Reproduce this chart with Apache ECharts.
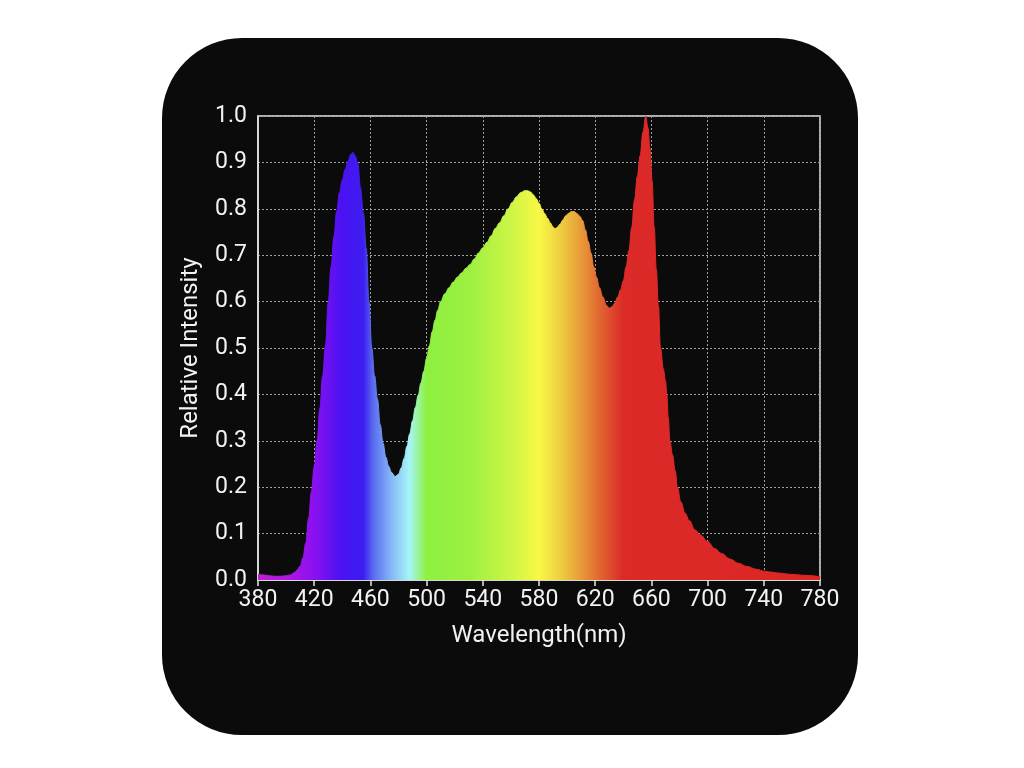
<!DOCTYPE html>
<html>
<head>
<meta charset="utf-8">
<script src="https://cdn.jsdelivr.net/npm/echarts@6/dist/echarts.min.js"></script>
<style>
html,body{margin:0;padding:0;background:#ffffff;}
#chart{width:1024px;height:768px;}
</style>
</head>
<body>
<div id="chart"></div>
<script>
// Wavelength (nm) samples
const wavelengths = [380,384,388,392,396,400,403,406,408,410,412,414,416,418,420,422,424,426,428,430,432,434,436,438,440,442,444,446,447.5,449,451,453,455,457,459,461,463,465,467,469,471,473,475,477.5,480,482,484,486,488,490,492,494,496,498,500,502,504,506,508,510,513,516,519,522,525,528,531,534,537,540,543,546,549,552,555,558,561,564,567,570,572,574,576,578,580,582,584,586,588,590,591.5,593,595,597,599,601,603,605,607,609,611,613,615,617,619,621,623,625.5,628,630,632,634,636,638,640,642,644,646,648,650,652,654,656,657.5,659,660.5,662,663.5,665,666.5,668.5,670,671,672,673.2,675,677,678.5,681,684,687,691,695,700,705,710,716,722,728,735,740,745,750,760,770,780];
// Relative intensity at each wavelength
const intensity = [0.012,0.011,0.009,0.008,0.008,0.009,0.011,0.016,0.022,0.03,0.048,0.08,0.133,0.19,0.245,0.30,0.37,0.44,0.505,0.60,0.675,0.74,0.795,0.835,0.862,0.885,0.902,0.917,0.922,0.915,0.90,0.845,0.79,0.715,0.60,0.50,0.44,0.39,0.335,0.295,0.265,0.245,0.232,0.223,0.228,0.242,0.262,0.288,0.315,0.343,0.372,0.398,0.425,0.45,0.478,0.505,0.535,0.56,0.582,0.60,0.617,0.63,0.642,0.653,0.662,0.672,0.68,0.692,0.705,0.716,0.728,0.742,0.758,0.77,0.785,0.80,0.814,0.826,0.835,0.839,0.839,0.836,0.83,0.822,0.812,0.80,0.79,0.78,0.77,0.761,0.757,0.76,0.767,0.776,0.785,0.79,0.794,0.794,0.79,0.784,0.775,0.755,0.73,0.705,0.675,0.652,0.63,0.61,0.592,0.586,0.589,0.597,0.61,0.625,0.645,0.675,0.71,0.76,0.82,0.87,0.915,0.965,1.0,0.975,0.93,0.86,0.76,0.67,0.59,0.50,0.455,0.43,0.40,0.35,0.30,0.27,0.235,0.20,0.168,0.144,0.128,0.108,0.097,0.083,0.068,0.057,0.045,0.036,0.029,0.023,0.019,0.017,0.015,0.012,0.01,0.007];
// Spectral colour stops (wavelength -> colour)
const colorWavelengths = [380,400,420,440,455,462,475,488,500,530,560,580,595,610,625,640,780];
const colorValues = ['#c21ed0','#b018e0','#8a10f0','#4a12f2','#3c1ef0','#5a6cf0','#86b8f8','#a6f6f6','#8ef040','#9cf040','#cdf545','#f8f845','#eed040','#e89a38','#e06030','#dc2a28','#dc2626'];
const xTicks = [380,420,460,500,540,580,620,660,700,740,780];

const xMin = 380, xMax = 780;
const data = wavelengths.map((w, i) => [w, intensity[i]]);
const stops = colorWavelengths.map((w, i) => ({offset: (w - xMin) / (xMax - xMin), color: colorValues[i]}));

const chart = echarts.init(document.getElementById('chart'));
const font = 'Roboto, "Noto Sans", sans-serif';
chart.setOption({
  backgroundColor: '#ffffff',
  animation: false,
  graphic: [{
    type: 'rect', z: -10, silent: true,
    shape: {x: 162, y: 38, width: 696, height: 697, r: 80},
    style: {fill: '#0b0b0b'}
  }],
  grid: {left: 258, right: 204, top: 116, bottom: 188, show: true, borderColor: '#e6e6e6', borderWidth: 1.5, backgroundColor: 'transparent'},
  xAxis: {
    type: 'value', min: xMin, max: xMax, interval: 40,
    name: 'Wavelength(nm)', nameLocation: 'middle', nameGap: 44,
    nameTextStyle: {color: '#f2f2f2', fontSize: 24, fontFamily: font},
    axisLine: {show: true, lineStyle: {color: '#e6e6e6', width: 1.5}},
    axisTick: {show: true, length: 6, lineStyle: {color: '#e6e6e6', width: 1.5}},
    axisLabel: {color: '#f2f2f2', fontSize: 23, fontFamily: font, margin: 9,
      formatter: v => xTicks.includes(v) ? String(v) : ''},
    splitLine: {show: true, lineStyle: {color: '#a0a0a0', type: [2, 2], width: 1}}
  },
  yAxis: {
    type: 'value', min: 0, max: 1, interval: 0.1,
    name: 'Relative Intensity', nameLocation: 'middle', nameGap: 55, nameRotate: 90,
    nameTextStyle: {color: '#f2f2f2', fontSize: 24, fontFamily: font},
    axisLine: {show: true, lineStyle: {color: '#e6e6e6', width: 1.5}},
    axisTick: {show: false},
    axisLabel: {color: '#f2f2f2', fontSize: 23, fontFamily: font, margin: 11,
      formatter: v => v.toFixed(1)},
    splitLine: {show: true, lineStyle: {color: '#a0a0a0', type: [2, 2], width: 1}}
  },
  series: [{
    type: 'line',
    data: data,
    smooth: 0.4,
    smoothMonotone: 'x',
    showSymbol: false,
    lineStyle: {width: 1, color: new echarts.graphic.LinearGradient(0, 0, 1, 0, stops)},
    areaStyle: {
      opacity: 1,
      color: new echarts.graphic.LinearGradient(0, 0, 1, 0, stops)
    }
  }]
});
</script>
</body>
</html>
